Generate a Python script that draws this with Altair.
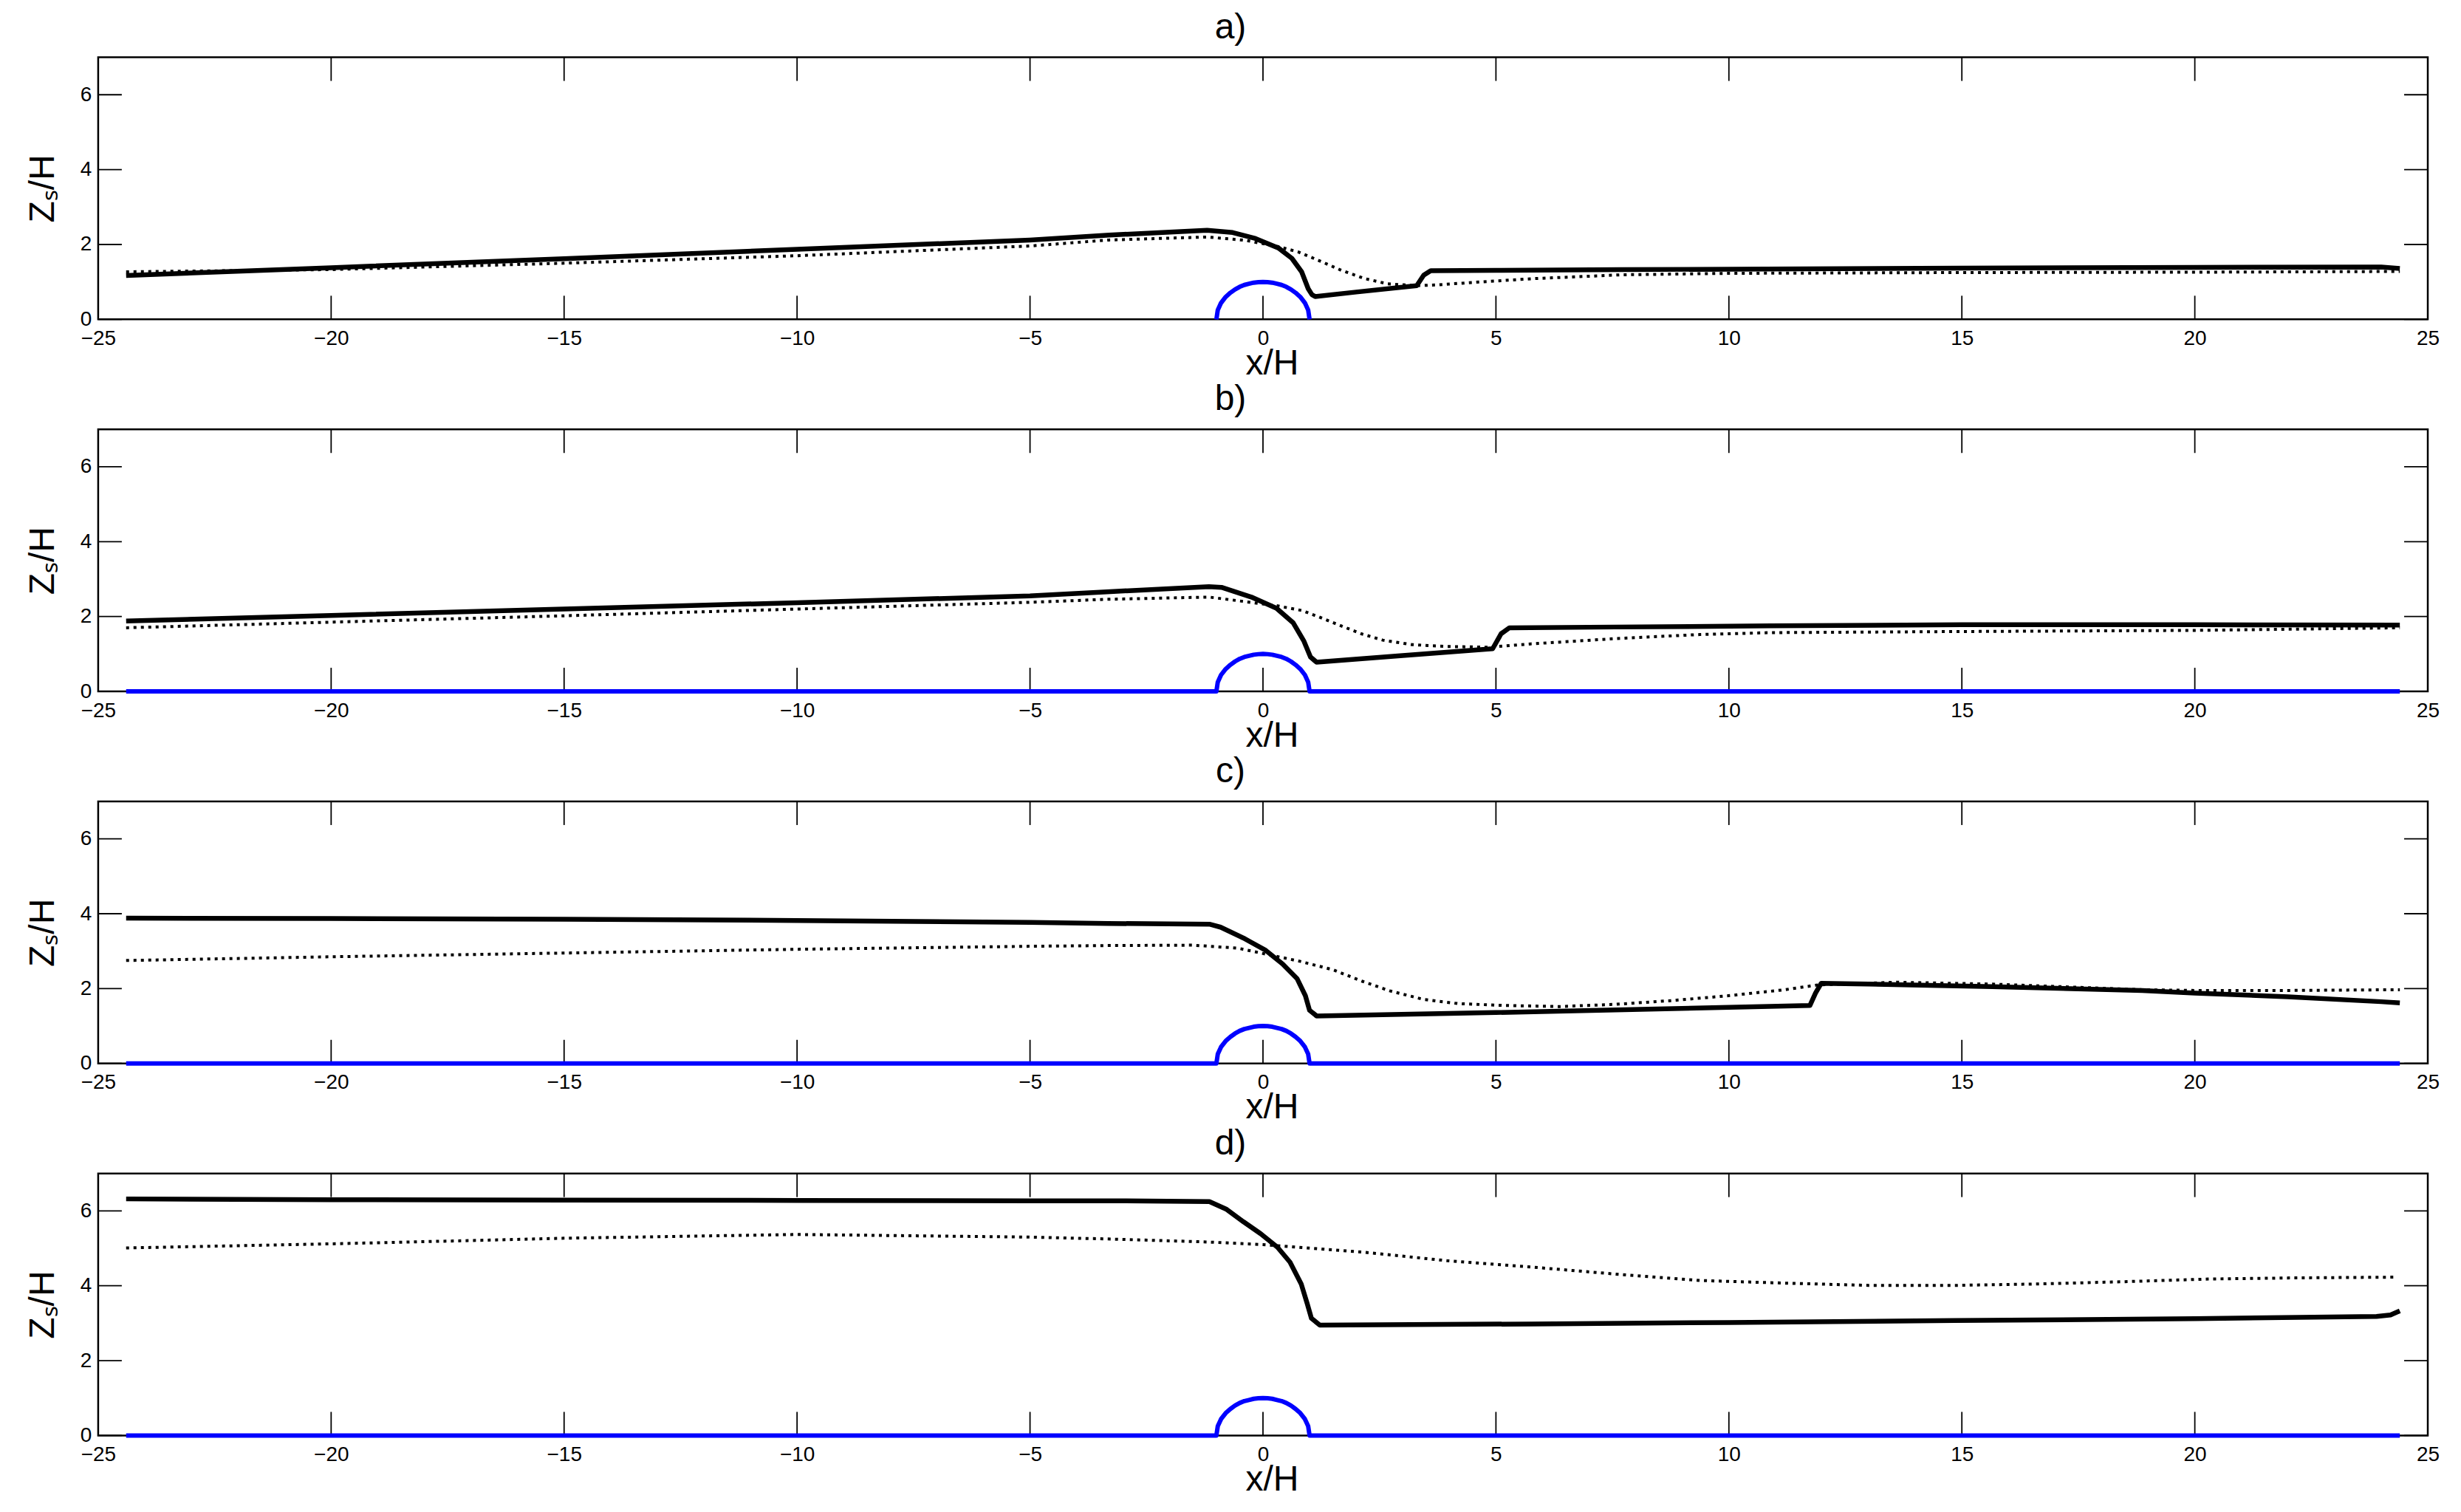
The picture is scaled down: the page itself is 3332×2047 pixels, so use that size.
import altair as alt
import pandas as pd

# ---------------- data ----------------
X_TICKS = [-25, -20, -15, -10, -5, 0, 5, 10, 15, 20, 25]
Y_TICKS = [0, 2, 4, 6]
PANEL_TITLES = ["a)", "b)", "c)", "d)"]

# obstacle (blue)
BUMP_X = [-1.0, -0.97, -0.9, -0.8, -0.7, -0.6, -0.5, -0.4, -0.3, -0.2, -0.1, 0.0,
          0.1, 0.2, 0.3, 0.4, 0.5, 0.6, 0.7, 0.8, 0.9, 0.97, 1.0]
BUMP_Y = [0.0, 0.25, 0.44, 0.60, 0.71, 0.80, 0.87, 0.92, 0.95, 0.98, 0.995, 1.0,
          0.995, 0.98, 0.95, 0.92, 0.87, 0.80, 0.71, 0.60, 0.44, 0.25, 0.0]
FLOOR_LEFT_X = [-24.4, -1.0]
FLOOR_RIGHT_X = [1.0, 24.4]

# panel a
A_SOLID_X = [-24.4, -20, -15, -10, -5, -3.3, -2, -1.2, -0.65, -0.16, 0.34, 0.62, 0.83, 0.97,
             1.05, 1.12, 2.0, 3.3, 3.45, 3.6, 5, 7.7, 10, 15, 20, 24.0, 24.4]
A_SOLID_Y = [1.17, 1.38, 1.62, 1.87, 2.12, 2.25, 2.33, 2.38, 2.32, 2.16, 1.90, 1.63, 1.27, 0.82,
             0.66, 0.61, 0.73, 0.90, 1.18, 1.30, 1.31, 1.33, 1.34, 1.37, 1.39, 1.40, 1.36]
A_DOT_X = [-24.4, -20, -15, -10, -5, -3.3, -1.2, -0.37, 0.34, 0.76, 1.26, 1.68, 2.18, 2.67,
           3.3, 3.73, 4.43, 5.84, 7.7, 10, 15, 20, 24.4]
A_DOT_Y = [1.27, 1.33, 1.50, 1.70, 1.96, 2.12, 2.20, 2.11, 1.94, 1.80, 1.54, 1.31, 1.09, 0.95,
           0.90, 0.92, 0.98, 1.09, 1.19, 1.23, 1.25, 1.26, 1.28]

# panel b
B_SOLID_X = [-24.4, -20, -15, -10, -5, -3.35, -1.16, -0.89, -0.25, 0.29, 0.65, 0.88, 1.02, 1.15,
             3.0, 4.93, 5.11, 5.29, 7.56, 10.9, 15, 20, 24.4]
B_SOLID_Y = [1.88, 2.03, 2.20, 2.37, 2.55, 2.66, 2.80, 2.78, 2.52, 2.22, 1.83, 1.34, 0.92, 0.78,
             0.96, 1.14, 1.54, 1.70, 1.72, 1.75, 1.78, 1.78, 1.77]
B_DOT_X = [-24.4, -20, -15, -10, -5, -3.35, -1.16, -0.33, 0.29, 0.84, 1.2, 1.66, 2.11, 2.57,
           3.2, 3.93, 4.84, 5.75, 7.56, 9.38, 10.9, 15, 20, 24.4]
B_DOT_Y = [1.70, 1.85, 2.02, 2.20, 2.38, 2.46, 2.52, 2.39, 2.29, 2.16, 1.99, 1.76, 1.54, 1.37,
           1.25, 1.20, 1.18, 1.27, 1.41, 1.52, 1.57, 1.60, 1.63, 1.70]

# panel c
C_SOLID_X = [-24.4, -20, -15, -10, -5, -3.33, -1.15, -0.91, -0.42, 0.06, 0.42, 0.73, 0.91, 1.0,
             1.15, 5, 10, 11.74, 11.86, 11.98, 13, 15.65, 18.87, 20, 22, 24.0, 24.4]
C_SOLID_Y = [3.88, 3.87, 3.85, 3.82, 3.77, 3.74, 3.72, 3.64, 3.35, 3.02, 2.66, 2.27, 1.81, 1.42,
             1.27, 1.36, 1.50, 1.55, 1.88, 2.14, 2.12, 2.05, 1.95, 1.88, 1.78, 1.65, 1.62]
C_DOT_X = [-24.4, -20, -15, -10, -5, -3.33, -1.51, -0.54, 0.18, 0.79, 1.51, 2.12, 2.72, 3.45,
           4.18, 5.15, 6.36, 7.57, 8.78, 9.99, 11.2, 11.92, 13.6, 15.65, 18.87, 20, 22, 24.4]
C_DOT_Y = [2.75, 2.85, 2.95, 3.05, 3.13, 3.15, 3.16, 3.08, 2.89, 2.73, 2.50, 2.20, 1.94, 1.71,
           1.60, 1.55, 1.52, 1.58, 1.68, 1.81, 1.97, 2.10, 2.17, 2.12, 1.97, 1.95, 1.95, 1.97]

# panel d
D_SOLID_X = [-24.4, -20, -15, -10, -5, -3.33, -1.15, -0.78, -0.42, -0.05, 0.31, 0.58, 0.82, 0.95,
             1.04, 1.22, 5.76, 10, 14.85, 20, 23.9, 24.2, 24.4]
D_SOLID_Y = [6.32, 6.30, 6.29, 6.28, 6.27, 6.27, 6.25, 6.04, 5.71, 5.39, 5.03, 4.63, 4.05, 3.52,
             3.13, 2.95, 2.98, 3.02, 3.07, 3.12, 3.18, 3.22, 3.33]
D_DOT_X = [-24.4, -20, -17.6, -15, -10, -5, -3.33, -1.2, 0, 2.13, 3.95, 5.76, 7.58, 9.4, 11.2,
           13.0, 14.85, 16.7, 18.5, 20.3, 22.1, 24.3]
D_DOT_Y = [5.01, 5.12, 5.19, 5.27, 5.37, 5.30, 5.25, 5.17, 5.10, 4.90, 4.67, 4.50, 4.31, 4.14,
           4.07, 4.01, 4.01, 4.05, 4.11, 4.18, 4.21, 4.23]

PANELS = [
    (A_SOLID_X, A_SOLID_Y, A_DOT_X, A_DOT_Y, False),
    (B_SOLID_X, B_SOLID_Y, B_DOT_X, B_DOT_Y, True),
    (C_SOLID_X, C_SOLID_Y, C_DOT_X, C_DOT_Y, True),
    (D_SOLID_X, D_SOLID_Y, D_DOT_X, D_DOT_Y, True),
]

# ---------------- styling ----------------
W, H = 3156, 355
TICK = 32
FONT = "Liberation Sans"

xs = alt.Scale(domain=[-25, 25], nice=False, zero=False)
ys = alt.Scale(domain=[0, 7], nice=False, zero=False)

X_AXIS = alt.Axis(values=X_TICKS, title="x/H", domain=False, ticks=False, grid=False,
                  labelFont=FONT, labelFontSize=28, labelColor="black", labelPadding=12,
                  labelFlush=False, labelOverlap=False,
                  titleFont=FONT, titleFontSize=48, titleFontWeight="normal",
                  titleColor="black", titleX=W / 2 + 12, titleY=74,
                  titleBaseline="alphabetic")
Y_AXIS = alt.Axis(values=Y_TICKS, title="Zₛ/H", domain=False, ticks=False, grid=False,
                  labelFont=FONT, labelFontSize=28, labelColor="black", labelPadding=9,
                  labelFlush=False, labelOverlap=False,
                  titleFont=FONT, titleFontSize=48, titleFontWeight="normal",
                  titleColor="black", titleAngle=270, titleX=-60, titleY=H / 2,
                  titleBaseline="alphabetic", titleAlign="center")


def df_of(xv, yv):
    return pd.DataFrame({"x": xv, "y": yv, "i": list(range(len(xv)))})


def line_layer(df, color, width, dash=None):
    kw = dict(color=color, strokeWidth=width, strokeCap="butt", strokeJoin="round")
    if dash:
        kw["strokeDash"] = dash
    return alt.Chart(df).mark_line(**kw).encode(
        x=alt.X("x:Q", scale=xs, axis=X_AXIS),
        y=alt.Y("y:Q", scale=ys, axis=Y_AXIS),
        order="i:Q",
    )


def panel(idx):
    sx, sy, dx_, dy_, floor = PANELS[idx]
    xt = pd.DataFrame({"x": X_TICKS})
    yt = pd.DataFrame({"y": Y_TICKS})

    tick_kw = dict(color="black", strokeWidth=1.8)
    bottom_ticks = alt.Chart(xt).mark_rule(**tick_kw).encode(
        x=alt.X("x:Q", scale=xs, axis=X_AXIS), y=alt.value(H), y2=alt.value(H - TICK))
    top_ticks = alt.Chart(xt).mark_rule(**tick_kw).encode(
        x=alt.X("x:Q", scale=xs, axis=X_AXIS), y=alt.value(0), y2=alt.value(TICK))
    left_ticks = alt.Chart(yt).mark_rule(**tick_kw).encode(
        y=alt.Y("y:Q", scale=ys, axis=Y_AXIS), x=alt.value(0), x2=alt.value(TICK))
    right_ticks = alt.Chart(yt).mark_rule(**tick_kw).encode(
        y=alt.Y("y:Q", scale=ys, axis=Y_AXIS), x=alt.value(W), x2=alt.value(W - TICK))

    if floor:
        bx = FLOOR_LEFT_X + BUMP_X + FLOOR_RIGHT_X
        by = [0.0, 0.0] + BUMP_Y + [0.0, 0.0]
    else:
        bx, by = BUMP_X, BUMP_Y

    layers = [
        bottom_ticks, top_ticks, left_ticks, right_ticks,
        line_layer(df_of(dx_, dy_), "black", 4, [4, 6]),
        line_layer(df_of(sx, sy), "black", 6.5),
        line_layer(df_of(bx, by), "#0000ff", 6),
    ]
    return alt.layer(*layers).properties(
        width=W, height=H,
        title=alt.TitleParams(text=PANEL_TITLES[idx], font=FONT, fontSize=48,
                              fontWeight="normal", color="black", dx=-44, offset=-23,
                              baseline="alphabetic", frame="group", anchor="middle"),
    )


chart = alt.vconcat(*[panel(i) for i in range(4)], spacing=149, bounds="flush").properties(
    padding={"left": 25, "top": 3, "right": 20, "bottom": 10},
).configure_view(stroke="black", strokeWidth=2.5)

chart.save("out.html", embed_options={"renderer": "svg", "actions": False})
